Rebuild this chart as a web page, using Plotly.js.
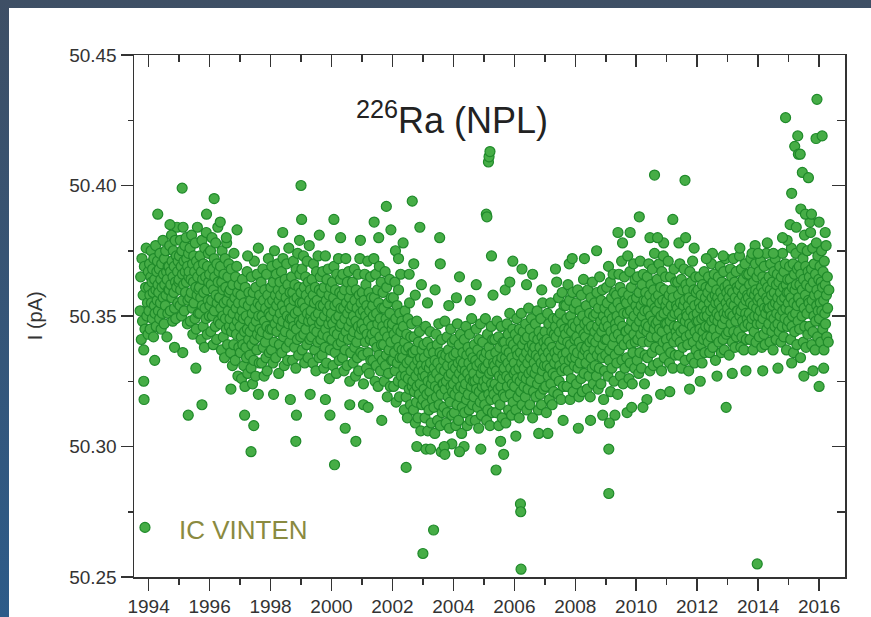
<!DOCTYPE html>
<html><head><meta charset="utf-8">
<script src="https://cdn.plot.ly/plotly-3.0.1.min.js"></script>
<style>
html,body{margin:0;padding:0;width:871px;height:617px;overflow:hidden;background:linear-gradient(to bottom,#3e4f65 0%,#2d5b89 100%);}
#chart{position:absolute;left:9px;top:8px;width:862px;height:609px;background:#fff;}
</style></head><body><div id="chart"></div><script>
// ---- data: time (decimal year) and ionisation current I (pA) ----
const t1993 = [1993.72,1993.74,1993.76,1993.78,1993.80,1993.82,1993.84,1993.86,1993.88,1993.90,1993.92,1993.94,1993.96,1993.98,1993.99];
const i1993 = [50.352,50.365,50.341,50.372,50.348,50.358,50.337,50.369,50.345,50.361,50.376,50.350,50.355,50.343,50.367];

const t1994 = [1994.00,1994.01,1994.03,1994.04,1994.05,1994.07,1994.08,1994.09,1994.11,1994.12,1994.13,1994.15,1994.16,1994.17,1994.19,1994.20,1994.21,1994.23,1994.24,1994.25,1994.27,1994.28,1994.29,1994.31,1994.32,
1994.33,1994.35,1994.36,1994.37,1994.39,1994.40,1994.41,1994.43,1994.44,1994.45,1994.47,1994.48,1994.49,1994.51,1994.52,1994.53,1994.55,1994.56,1994.57,1994.59,1994.60,1994.61,1994.63,1994.64,1994.65,
1994.67,1994.68,1994.69,1994.71,1994.72,1994.73,1994.75,1994.76,1994.77,1994.79,1994.80,1994.81,1994.83,1994.84,1994.85,1994.87,1994.88,1994.89,1994.91,1994.92,1994.93,1994.95,1994.96,1994.97,1994.99];
const i1994 = [50.361,50.352,50.370,50.358,50.345,50.365,50.375,50.355,50.363,50.349,50.368,50.359,50.342,50.372,50.354,50.364,50.351,50.377,50.360,50.346,50.367,50.356,50.371,50.362,50.352,
50.359,50.368,50.349,50.374,50.355,50.364,50.345,50.370,50.361,50.351,50.379,50.357,50.366,50.347,50.372,50.362,50.354,50.375,50.358,50.367,50.342,50.364,50.351,50.369,50.360,
50.369,50.360,50.377,50.352,50.367,50.362,50.381,50.357,50.371,50.348,50.365,50.375,50.359,50.369,50.353,50.379,50.363,50.349,50.373,50.361,50.384,50.367,50.355,50.371,50.363];

const t1995 = [1995.00,1995.01,1995.03,1995.04,1995.05,1995.07,1995.08,1995.09,1995.11,1995.12,1995.13,1995.15,1995.16,1995.17,1995.19,1995.20,1995.21,1995.23,1995.24,1995.25,1995.27,1995.28,1995.29,1995.31,1995.32,
1995.33,1995.35,1995.36,1995.37,1995.39,1995.40,1995.41,1995.43,1995.44,1995.45,1995.47,1995.48,1995.49,1995.51,1995.52,1995.53,1995.55,1995.56,1995.57,1995.59,1995.60,1995.61,1995.63,1995.64,1995.65,
1995.67,1995.68,1995.69,1995.71,1995.72,1995.73,1995.75,1995.76,1995.77,1995.79,1995.80,1995.81,1995.83,1995.84,1995.85,1995.87,1995.88,1995.89,1995.91,1995.92,1995.93,1995.95,1995.96,1995.97,1995.99];
const i1995 = [50.364,50.373,50.354,50.379,50.360,50.369,50.350,50.375,50.366,50.356,50.384,50.362,50.371,50.352,50.377,50.367,50.359,50.380,50.363,50.372,50.347,50.369,50.356,50.374,50.365,
50.367,50.357,50.376,50.348,50.364,50.359,50.381,50.353,50.370,50.343,50.363,50.373,50.355,50.367,50.349,50.378,50.361,50.345,50.371,50.358,50.384,50.365,50.351,50.369,50.360,
50.361,50.351,50.373,50.357,50.341,50.367,50.379,50.354,50.364,50.346,50.370,50.359,50.338,50.376,50.353,50.365,50.349,50.382,50.360,50.343,50.369,50.356,50.374,50.363,50.350];

const t1996 = [1996.00,1996.01,1996.03,1996.04,1996.05,1996.07,1996.08,1996.09,1996.11,1996.12,1996.13,1996.15,1996.16,1996.17,1996.19,1996.20,1996.21,1996.23,1996.24,1996.25,1996.27,1996.28,1996.29,1996.31,1996.32,
1996.33,1996.35,1996.36,1996.37,1996.39,1996.40,1996.41,1996.43,1996.44,1996.45,1996.47,1996.48,1996.49,1996.51,1996.52,1996.53,1996.55,1996.56,1996.57,1996.59,1996.60,1996.61,1996.63,1996.64,1996.65,
1996.67,1996.68,1996.69,1996.71,1996.72,1996.73,1996.75,1996.76,1996.77,1996.79,1996.80,1996.81,1996.83,1996.84,1996.85,1996.87,1996.88,1996.89,1996.91,1996.92,1996.93,1996.95,1996.96,1996.97,1996.99];
const i1996 = [50.366,50.354,50.375,50.344,50.362,50.356,50.380,50.350,50.368,50.339,50.360,50.372,50.352,50.365,50.346,50.378,50.358,50.341,50.370,50.355,50.384,50.363,50.348,50.367,50.357,
50.357,50.347,50.369,50.353,50.337,50.363,50.375,50.350,50.360,50.342,50.366,50.355,50.334,50.372,50.349,50.361,50.345,50.378,50.356,50.339,50.365,50.352,50.370,50.359,50.346,
50.349,50.360,50.336,50.368,50.344,50.355,50.331,50.362,50.351,50.339,50.374,50.346,50.357,50.333,50.365,50.353,50.343,50.369,50.348,50.359,50.327,50.355,50.338,50.362,50.350];

const t1997 = [1997.00,1997.01,1997.03,1997.04,1997.05,1997.07,1997.08,1997.09,1997.11,1997.12,1997.13,1997.15,1997.16,1997.17,1997.19,1997.20,1997.21,1997.23,1997.24,1997.25,1997.27,1997.28,1997.29,1997.31,1997.32,
1997.33,1997.35,1997.36,1997.37,1997.39,1997.40,1997.41,1997.43,1997.44,1997.45,1997.47,1997.48,1997.49,1997.51,1997.52,1997.53,1997.55,1997.56,1997.57,1997.59,1997.60,1997.61,1997.63,1997.64,1997.65,
1997.67,1997.68,1997.69,1997.71,1997.72,1997.73,1997.75,1997.76,1997.77,1997.79,1997.80,1997.81,1997.83,1997.84,1997.85,1997.87,1997.88,1997.89,1997.91,1997.92,1997.93,1997.95,1997.96,1997.97,1997.99];
const i1997 = [50.346,50.336,50.358,50.342,50.326,50.352,50.364,50.339,50.349,50.331,50.355,50.344,50.323,50.361,50.338,50.350,50.334,50.367,50.345,50.328,50.354,50.341,50.359,50.348,50.335,
50.344,50.356,50.330,50.365,50.339,50.351,50.324,50.359,50.346,50.333,50.371,50.341,50.353,50.327,50.361,50.348,50.337,50.366,50.343,50.355,50.320,50.350,50.332,50.358,50.345,
50.354,50.342,50.363,50.332,50.350,50.344,50.368,50.338,50.356,50.327,50.348,50.360,50.340,50.353,50.334,50.366,50.346,50.329,50.358,50.343,50.372,50.351,50.336,50.355,50.345];

const t1998 = [1998.00,1998.01,1998.03,1998.04,1998.05,1998.07,1998.08,1998.09,1998.11,1998.12,1998.13,1998.15,1998.16,1998.17,1998.19,1998.20,1998.21,1998.23,1998.24,1998.25,1998.27,1998.28,1998.29,1998.31,1998.32,
1998.33,1998.35,1998.36,1998.37,1998.39,1998.40,1998.41,1998.43,1998.44,1998.45,1998.47,1998.48,1998.49,1998.51,1998.52,1998.53,1998.55,1998.56,1998.57,1998.59,1998.60,1998.61,1998.63,1998.64,1998.65,
1998.67,1998.68,1998.69,1998.71,1998.72,1998.73,1998.75,1998.76,1998.77,1998.79,1998.80,1998.81,1998.83,1998.84,1998.85,1998.87,1998.88,1998.89,1998.91,1998.92,1998.93,1998.95,1998.96,1998.97,1998.99];
const i1998 = [50.350,50.361,50.337,50.369,50.345,50.356,50.332,50.363,50.352,50.340,50.375,50.347,50.358,50.334,50.366,50.354,50.344,50.370,50.349,50.360,50.328,50.356,50.339,50.363,50.351,
50.358,50.346,50.367,50.336,50.354,50.348,50.372,50.342,50.360,50.331,50.352,50.364,50.344,50.357,50.338,50.370,50.350,50.333,50.362,50.347,50.376,50.355,50.340,50.359,50.349,
50.353,50.343,50.365,50.349,50.333,50.359,50.371,50.346,50.356,50.338,50.362,50.351,50.330,50.368,50.345,50.357,50.341,50.374,50.352,50.335,50.361,50.348,50.366,50.355,50.342];

const t1999 = [1999.00,1999.01,1999.03,1999.04,1999.05,1999.07,1999.08,1999.09,1999.11,1999.12,1999.13,1999.15,1999.16,1999.17,1999.19,1999.20,1999.21,1999.23,1999.24,1999.25,1999.27,1999.28,1999.29,1999.31,1999.32,
1999.33,1999.35,1999.36,1999.37,1999.39,1999.40,1999.41,1999.43,1999.44,1999.45,1999.47,1999.48,1999.49,1999.51,1999.52,1999.53,1999.55,1999.56,1999.57,1999.59,1999.60,1999.61,1999.63,1999.64,1999.65,
1999.67,1999.68,1999.69,1999.71,1999.72,1999.73,1999.75,1999.76,1999.77,1999.79,1999.80,1999.81,1999.83,1999.84,1999.85,1999.87,1999.88,1999.89,1999.91,1999.92,1999.93,1999.95,1999.96,1999.97,1999.99];
const i1999 = [50.359,50.347,50.368,50.337,50.355,50.349,50.373,50.343,50.361,50.332,50.353,50.365,50.345,50.358,50.339,50.371,50.351,50.334,50.363,50.348,50.377,50.356,50.341,50.360,50.350,
50.352,50.342,50.364,50.348,50.332,50.358,50.370,50.345,50.355,50.337,50.361,50.350,50.329,50.367,50.344,50.356,50.340,50.373,50.351,50.334,50.360,50.347,50.365,50.354,50.341,
50.348,50.359,50.335,50.367,50.343,50.354,50.330,50.361,50.350,50.338,50.373,50.345,50.356,50.332,50.364,50.352,50.342,50.368,50.347,50.358,50.326,50.354,50.337,50.361,50.349];

const t2000 = [2000.00,2000.01,2000.03,2000.04,2000.05,2000.07,2000.08,2000.09,2000.11,2000.12,2000.13,2000.15,2000.16,2000.17,2000.19,2000.20,2000.21,2000.23,2000.24,2000.25,2000.27,2000.28,2000.29,2000.31,2000.32,
2000.33,2000.35,2000.36,2000.37,2000.39,2000.40,2000.41,2000.43,2000.44,2000.45,2000.47,2000.48,2000.49,2000.51,2000.52,2000.53,2000.55,2000.56,2000.57,2000.59,2000.60,2000.61,2000.63,2000.64,2000.65,
2000.67,2000.68,2000.69,2000.71,2000.72,2000.73,2000.75,2000.76,2000.77,2000.79,2000.80,2000.81,2000.83,2000.84,2000.85,2000.87,2000.88,2000.89,2000.91,2000.92,2000.93,2000.95,2000.96,2000.97,2000.99];
const i2000 = [50.351,50.341,50.363,50.347,50.331,50.357,50.369,50.344,50.354,50.336,50.360,50.349,50.328,50.366,50.343,50.355,50.339,50.372,50.350,50.333,50.359,50.346,50.364,50.353,50.340,
50.347,50.358,50.334,50.366,50.342,50.353,50.329,50.360,50.349,50.337,50.372,50.344,50.355,50.331,50.363,50.351,50.341,50.367,50.346,50.357,50.325,50.353,50.336,50.360,50.348,
50.354,50.342,50.363,50.332,50.350,50.344,50.368,50.338,50.356,50.327,50.348,50.360,50.340,50.353,50.334,50.366,50.346,50.329,50.358,50.343,50.372,50.351,50.336,50.355,50.345];

const t2001 = [2001.00,2001.01,2001.03,2001.04,2001.05,2001.07,2001.08,2001.09,2001.11,2001.12,2001.13,2001.15,2001.16,2001.17,2001.19,2001.20,2001.21,2001.23,2001.24,2001.25,2001.27,2001.28,2001.29,2001.31,2001.32,
2001.33,2001.35,2001.36,2001.37,2001.39,2001.40,2001.41,2001.43,2001.44,2001.45,2001.47,2001.48,2001.49,2001.51,2001.52,2001.53,2001.55,2001.56,2001.57,2001.59,2001.60,2001.61,2001.63,2001.64,2001.65,
2001.67,2001.68,2001.69,2001.71,2001.72,2001.73,2001.75,2001.76,2001.77,2001.79,2001.80,2001.81,2001.83,2001.84,2001.85,2001.87,2001.88,2001.89,2001.91,2001.92,2001.93,2001.95,2001.96,2001.97,2001.99];
const i2001 = [50.347,50.359,50.335,50.352,50.324,50.356,50.345,50.366,50.340,50.350,50.362,50.330,50.354,50.343,50.371,50.336,50.348,50.359,50.328,50.352,50.341,50.365,50.333,50.357,50.346,
50.343,50.354,50.333,50.350,50.372,50.340,50.357,50.325,50.344,50.366,50.331,50.351,50.338,50.360,50.347,50.323,50.355,50.335,50.369,50.342,50.349,50.329,50.363,50.339,50.353,
50.333,50.346,50.359,50.339,50.353,50.325,50.344,50.367,50.331,50.349,50.335,50.361,50.319,50.342,50.355,50.328,50.347,50.337,50.364,50.351,50.323,50.340,50.357,50.333,50.345];

const t2002 = [2002.00,2002.01,2002.03,2002.04,2002.05,2002.07,2002.08,2002.09,2002.11,2002.12,2002.13,2002.15,2002.16,2002.17,2002.19,2002.20,2002.21,2002.23,2002.24,2002.25,2002.27,2002.28,2002.29,2002.31,2002.32,
2002.33,2002.35,2002.36,2002.37,2002.39,2002.40,2002.41,2002.43,2002.44,2002.45,2002.47,2002.48,2002.49,2002.51,2002.52,2002.53,2002.55,2002.56,2002.57,2002.59,2002.60,2002.61,2002.63,2002.64,2002.65,
2002.67,2002.68,2002.69,2002.71,2002.72,2002.73,2002.75,2002.76,2002.77,2002.79,2002.80,2002.81,2002.83,2002.84,2002.85,2002.87,2002.88,2002.89,2002.91,2002.92,2002.93,2002.95,2002.96,2002.97,2002.99];
const i2002 = [50.347,50.333,50.357,50.323,50.343,50.336,50.363,50.329,50.349,50.317,50.341,50.354,50.332,50.345,50.325,50.360,50.338,50.319,50.351,50.334,50.366,50.344,50.327,50.348,50.337,
50.334,50.324,50.346,50.330,50.314,50.340,50.352,50.327,50.337,50.319,50.343,50.332,50.311,50.349,50.326,50.338,50.322,50.355,50.333,50.316,50.342,50.329,50.347,50.336,50.323,
50.325,50.336,50.314,50.342,50.321,50.331,50.309,50.337,50.327,50.317,50.348,50.323,50.333,50.311,50.340,50.329,50.320,50.344,50.324,50.334,50.306,50.331,50.316,50.337,50.327];

const t2003 = [2003.00,2003.01,2003.03,2003.04,2003.05,2003.07,2003.08,2003.09,2003.11,2003.12,2003.13,2003.15,2003.16,2003.17,2003.19,2003.20,2003.21,2003.23,2003.24,2003.25,2003.27,2003.28,2003.29,2003.31,2003.32,
2003.33,2003.35,2003.36,2003.37,2003.39,2003.40,2003.41,2003.43,2003.44,2003.45,2003.47,2003.48,2003.49,2003.51,2003.52,2003.53,2003.55,2003.56,2003.57,2003.59,2003.60,2003.61,2003.63,2003.64,2003.65,
2003.67,2003.68,2003.69,2003.71,2003.72,2003.73,2003.75,2003.76,2003.77,2003.79,2003.80,2003.81,2003.83,2003.84,2003.85,2003.87,2003.88,2003.89,2003.91,2003.92,2003.93,2003.95,2003.96,2003.97,2003.99];
const i2003 = [50.318,50.329,50.339,50.322,50.334,50.311,50.327,50.346,50.316,50.331,50.320,50.340,50.306,50.325,50.336,50.314,50.330,50.321,50.344,50.332,50.309,50.324,50.338,50.318,50.327,
50.326,50.336,50.315,50.330,50.305,50.333,50.323,50.343,50.319,50.328,50.339,50.310,50.332,50.322,50.347,50.316,50.326,50.336,50.308,50.330,50.320,50.341,50.313,50.335,50.324,
50.324,50.333,50.315,50.329,50.348,50.322,50.335,50.309,50.325,50.342,50.313,50.331,50.319,50.337,50.327,50.307,50.334,50.317,50.345,50.323,50.328,50.312,50.340,50.321,50.331];

const t2004 = [2004.00,2004.01,2004.03,2004.04,2004.05,2004.07,2004.08,2004.09,2004.11,2004.12,2004.13,2004.15,2004.16,2004.17,2004.19,2004.20,2004.21,2004.23,2004.24,2004.25,2004.27,2004.28,2004.29,2004.31,2004.32,
2004.33,2004.35,2004.36,2004.37,2004.39,2004.40,2004.41,2004.43,2004.44,2004.45,2004.47,2004.48,2004.49,2004.51,2004.52,2004.53,2004.55,2004.56,2004.57,2004.59,2004.60,2004.61,2004.63,2004.64,2004.65,
2004.67,2004.68,2004.69,2004.71,2004.72,2004.73,2004.75,2004.76,2004.77,2004.79,2004.80,2004.81,2004.83,2004.84,2004.85,2004.87,2004.88,2004.89,2004.91,2004.92,2004.93,2004.95,2004.96,2004.97,2004.99];
const i2004 = [50.324,50.335,50.313,50.341,50.320,50.330,50.308,50.336,50.326,50.316,50.347,50.322,50.332,50.310,50.339,50.328,50.319,50.343,50.323,50.333,50.305,50.330,50.315,50.336,50.326,
50.332,50.322,50.341,50.313,50.329,50.324,50.346,50.318,50.335,50.308,50.328,50.338,50.320,50.332,50.314,50.343,50.326,50.310,50.336,50.323,50.349,50.330,50.316,50.334,50.325,
50.328,50.319,50.339,50.325,50.310,50.333,50.345,50.322,50.331,50.315,50.337,50.326,50.307,50.341,50.321,50.332,50.317,50.347,50.328,50.312,50.335,50.323,50.340,50.330,50.319];

const t2005 = [2005.00,2005.01,2005.03,2005.04,2005.05,2005.07,2005.08,2005.09,2005.11,2005.12,2005.13,2005.15,2005.16,2005.17,2005.19,2005.20,2005.21,2005.23,2005.24,2005.25,2005.27,2005.28,2005.29,2005.31,2005.32,
2005.33,2005.35,2005.36,2005.37,2005.39,2005.40,2005.41,2005.43,2005.44,2005.45,2005.47,2005.48,2005.49,2005.51,2005.52,2005.53,2005.55,2005.56,2005.57,2005.59,2005.60,2005.61,2005.63,2005.64,2005.65,
2005.67,2005.68,2005.69,2005.71,2005.72,2005.73,2005.75,2005.76,2005.77,2005.79,2005.80,2005.81,2005.83,2005.84,2005.85,2005.87,2005.88,2005.89,2005.91,2005.92,2005.93,2005.95,2005.96,2005.97,2005.99];
const i2005 = [50.325,50.334,50.316,50.330,50.349,50.323,50.336,50.310,50.326,50.343,50.314,50.332,50.320,50.338,50.328,50.308,50.335,50.318,50.346,50.324,50.329,50.313,50.341,50.322,50.332,
50.320,50.331,50.341,50.324,50.336,50.313,50.329,50.348,50.318,50.333,50.322,50.342,50.308,50.327,50.338,50.316,50.332,50.323,50.346,50.334,50.311,50.326,50.340,50.320,50.329,
50.330,50.340,50.319,50.334,50.309,50.337,50.327,50.347,50.323,50.332,50.343,50.314,50.336,50.326,50.351,50.320,50.330,50.340,50.312,50.334,50.324,50.345,50.317,50.339,50.328];

const t2006 = [2006.00,2006.01,2006.03,2006.04,2006.05,2006.07,2006.08,2006.09,2006.11,2006.12,2006.13,2006.15,2006.16,2006.17,2006.19,2006.20,2006.21,2006.23,2006.24,2006.25,2006.27,2006.28,2006.29,2006.31,2006.32,
2006.33,2006.35,2006.36,2006.37,2006.39,2006.40,2006.41,2006.43,2006.44,2006.45,2006.47,2006.48,2006.49,2006.51,2006.52,2006.53,2006.55,2006.56,2006.57,2006.59,2006.60,2006.61,2006.63,2006.64,2006.65,
2006.67,2006.68,2006.69,2006.71,2006.72,2006.73,2006.75,2006.76,2006.77,2006.79,2006.80,2006.81,2006.83,2006.84,2006.85,2006.87,2006.88,2006.89,2006.91,2006.92,2006.93,2006.95,2006.96,2006.97,2006.99];
const i2006 = [50.332,50.323,50.343,50.329,50.314,50.337,50.349,50.326,50.335,50.319,50.341,50.330,50.311,50.345,50.325,50.336,50.321,50.351,50.332,50.316,50.339,50.327,50.344,50.334,50.323,
50.330,50.341,50.319,50.347,50.326,50.336,50.314,50.342,50.332,50.322,50.353,50.328,50.338,50.316,50.345,50.334,50.325,50.349,50.329,50.339,50.311,50.336,50.321,50.342,50.332,
50.338,50.328,50.347,50.319,50.335,50.330,50.352,50.324,50.341,50.314,50.334,50.344,50.326,50.338,50.320,50.349,50.332,50.316,50.342,50.329,50.355,50.336,50.322,50.340,50.331];

const t2007 = [2007.00,2007.01,2007.03,2007.04,2007.05,2007.07,2007.08,2007.09,2007.11,2007.12,2007.13,2007.15,2007.16,2007.17,2007.19,2007.20,2007.21,2007.23,2007.24,2007.25,2007.27,2007.28,2007.29,2007.31,2007.32,
2007.33,2007.35,2007.36,2007.37,2007.39,2007.40,2007.41,2007.43,2007.44,2007.45,2007.47,2007.48,2007.49,2007.51,2007.52,2007.53,2007.55,2007.56,2007.57,2007.59,2007.60,2007.61,2007.63,2007.64,2007.65,
2007.67,2007.68,2007.69,2007.71,2007.72,2007.73,2007.75,2007.76,2007.77,2007.79,2007.80,2007.81,2007.83,2007.84,2007.85,2007.87,2007.88,2007.89,2007.91,2007.92,2007.93,2007.95,2007.96,2007.97,2007.99];
const i2007 = [50.334,50.344,50.323,50.338,50.313,50.341,50.331,50.351,50.327,50.336,50.347,50.318,50.340,50.330,50.355,50.324,50.334,50.344,50.316,50.338,50.328,50.349,50.321,50.343,50.332,
50.336,50.346,50.327,50.342,50.363,50.334,50.349,50.320,50.337,50.357,50.325,50.344,50.331,50.351,50.339,50.318,50.347,50.329,50.359,50.335,50.341,50.323,50.354,50.333,50.345,
50.330,50.343,50.354,50.336,50.349,50.323,50.340,50.362,50.329,50.345,50.333,50.356,50.318,50.339,50.350,50.326,50.344,50.334,50.359,50.347,50.321,50.337,50.353,50.331,50.341];

const t2008 = [2008.00,2008.01,2008.03,2008.04,2008.05,2008.07,2008.08,2008.09,2008.11,2008.12,2008.13,2008.15,2008.16,2008.17,2008.19,2008.20,2008.21,2008.23,2008.24,2008.25,2008.27,2008.28,2008.29,2008.31,2008.32,
2008.33,2008.35,2008.36,2008.37,2008.39,2008.40,2008.41,2008.43,2008.44,2008.45,2008.47,2008.48,2008.49,2008.51,2008.52,2008.53,2008.55,2008.56,2008.57,2008.59,2008.60,2008.61,2008.63,2008.64,2008.65,
2008.67,2008.68,2008.69,2008.71,2008.72,2008.73,2008.75,2008.76,2008.77,2008.79,2008.80,2008.81,2008.83,2008.84,2008.85,2008.87,2008.88,2008.89,2008.91,2008.92,2008.93,2008.95,2008.96,2008.97,2008.99];
const i2008 = [50.346,50.334,50.355,50.324,50.342,50.336,50.360,50.330,50.348,50.319,50.340,50.352,50.332,50.345,50.326,50.358,50.338,50.321,50.350,50.335,50.364,50.343,50.328,50.347,50.337,
50.342,50.332,50.354,50.338,50.322,50.348,50.360,50.335,50.345,50.327,50.351,50.340,50.319,50.357,50.334,50.346,50.330,50.363,50.341,50.324,50.350,50.337,50.355,50.344,50.331,
50.340,50.351,50.327,50.359,50.335,50.346,50.322,50.353,50.342,50.330,50.365,50.337,50.348,50.324,50.356,50.344,50.334,50.360,50.339,50.350,50.318,50.346,50.329,50.353,50.341];

const t2009 = [2009.00,2009.01,2009.03,2009.04,2009.05,2009.07,2009.08,2009.09,2009.11,2009.12,2009.13,2009.15,2009.16,2009.17,2009.19,2009.20,2009.21,2009.23,2009.24,2009.25,2009.27,2009.28,2009.29,2009.31,2009.32,
2009.33,2009.35,2009.36,2009.37,2009.39,2009.40,2009.41,2009.43,2009.44,2009.45,2009.47,2009.48,2009.49,2009.51,2009.52,2009.53,2009.55,2009.56,2009.57,2009.59,2009.60,2009.61,2009.63,2009.64,2009.65,
2009.67,2009.68,2009.69,2009.71,2009.72,2009.73,2009.75,2009.76,2009.77,2009.79,2009.80,2009.81,2009.83,2009.84,2009.85,2009.87,2009.88,2009.89,2009.91,2009.92,2009.93,2009.95,2009.96,2009.97,2009.99];
const i2009 = [50.335,50.348,50.361,50.341,50.355,50.327,50.346,50.369,50.333,50.351,50.337,50.363,50.321,50.344,50.357,50.330,50.349,50.339,50.366,50.353,50.325,50.342,50.359,50.335,50.347,
50.345,50.358,50.332,50.350,50.320,50.355,50.343,50.366,50.337,50.348,50.361,50.327,50.353,50.341,50.371,50.333,50.346,50.359,50.324,50.351,50.339,50.365,50.330,50.356,50.344,
50.344,50.355,50.334,50.351,50.373,50.341,50.358,50.326,50.345,50.367,50.332,50.352,50.339,50.361,50.348,50.324,50.356,50.336,50.370,50.343,50.350,50.330,50.364,50.340,50.354];

const t2010 = [2010.00,2010.01,2010.03,2010.04,2010.05,2010.07,2010.08,2010.09,2010.11,2010.12,2010.13,2010.15,2010.16,2010.17,2010.19,2010.20,2010.21,2010.23,2010.24,2010.25,2010.27,2010.28,2010.29,2010.31,2010.32,
2010.33,2010.35,2010.36,2010.37,2010.39,2010.40,2010.41,2010.43,2010.44,2010.45,2010.47,2010.48,2010.49,2010.51,2010.52,2010.53,2010.55,2010.56,2010.57,2010.59,2010.60,2010.61,2010.63,2010.64,2010.65,
2010.67,2010.68,2010.69,2010.71,2010.72,2010.73,2010.75,2010.76,2010.77,2010.79,2010.80,2010.81,2010.83,2010.84,2010.85,2010.87,2010.88,2010.89,2010.91,2010.92,2010.93,2010.95,2010.96,2010.97,2010.99];
const i2010 = [50.346,50.357,50.333,50.365,50.341,50.352,50.328,50.359,50.348,50.336,50.371,50.343,50.354,50.330,50.362,50.350,50.340,50.366,50.345,50.356,50.324,50.352,50.335,50.359,50.347,
50.356,50.344,50.365,50.334,50.352,50.346,50.370,50.340,50.358,50.329,50.350,50.362,50.342,50.355,50.336,50.368,50.348,50.331,50.360,50.345,50.374,50.353,50.338,50.357,50.347,
50.352,50.342,50.364,50.348,50.332,50.358,50.370,50.345,50.355,50.337,50.361,50.350,50.329,50.367,50.344,50.356,50.340,50.373,50.351,50.334,50.360,50.347,50.365,50.354,50.341];

const t2011 = [2011.00,2011.01,2011.03,2011.04,2011.05,2011.07,2011.08,2011.09,2011.11,2011.12,2011.13,2011.15,2011.16,2011.17,2011.19,2011.20,2011.21,2011.23,2011.24,2011.25,2011.27,2011.28,2011.29,2011.31,2011.32,
2011.33,2011.35,2011.36,2011.37,2011.39,2011.40,2011.41,2011.43,2011.44,2011.45,2011.47,2011.48,2011.49,2011.51,2011.52,2011.53,2011.55,2011.56,2011.57,2011.59,2011.60,2011.61,2011.63,2011.64,2011.65,
2011.67,2011.68,2011.69,2011.71,2011.72,2011.73,2011.75,2011.76,2011.77,2011.79,2011.80,2011.81,2011.83,2011.84,2011.85,2011.87,2011.88,2011.89,2011.91,2011.92,2011.93,2011.95,2011.96,2011.97,2011.99];
const i2011 = [50.347,50.356,50.338,50.352,50.371,50.345,50.358,50.332,50.348,50.365,50.336,50.354,50.342,50.360,50.350,50.330,50.357,50.340,50.368,50.346,50.351,50.335,50.363,50.344,50.354,
50.342,50.353,50.363,50.346,50.358,50.335,50.351,50.370,50.340,50.355,50.344,50.364,50.330,50.349,50.360,50.338,50.354,50.345,50.368,50.356,50.333,50.348,50.362,50.342,50.351,
50.350,50.360,50.339,50.354,50.329,50.357,50.347,50.367,50.343,50.352,50.363,50.334,50.356,50.346,50.371,50.340,50.350,50.360,50.332,50.354,50.344,50.365,50.337,50.359,50.348];

const t2012 = [2012.00,2012.01,2012.03,2012.04,2012.05,2012.07,2012.08,2012.09,2012.11,2012.12,2012.13,2012.15,2012.16,2012.17,2012.19,2012.20,2012.21,2012.23,2012.24,2012.25,2012.27,2012.28,2012.29,2012.31,2012.32,
2012.33,2012.35,2012.36,2012.37,2012.39,2012.40,2012.41,2012.43,2012.44,2012.45,2012.47,2012.48,2012.49,2012.51,2012.52,2012.53,2012.55,2012.56,2012.57,2012.59,2012.60,2012.61,2012.63,2012.64,2012.65,
2012.67,2012.68,2012.69,2012.71,2012.72,2012.73,2012.75,2012.76,2012.77,2012.79,2012.80,2012.81,2012.83,2012.84,2012.85,2012.87,2012.88,2012.89,2012.91,2012.92,2012.93,2012.95,2012.96,2012.97,2012.99];
const i2012 = [50.351,50.342,50.360,50.348,50.335,50.355,50.365,50.345,50.353,50.339,50.358,50.349,50.332,50.362,50.344,50.354,50.341,50.367,50.350,50.336,50.357,50.346,50.361,50.352,50.342,
50.350,50.359,50.340,50.365,50.346,50.355,50.336,50.361,50.352,50.342,50.370,50.348,50.357,50.338,50.363,50.353,50.345,50.366,50.349,50.358,50.333,50.355,50.342,50.360,50.351,
50.357,50.348,50.365,50.340,50.355,50.350,50.369,50.345,50.359,50.336,50.353,50.363,50.347,50.357,50.341,50.367,50.351,50.337,50.361,50.349,50.372,50.355,50.343,50.359,50.351];

const t2013 = [2013.00,2013.01,2013.03,2013.04,2013.05,2013.07,2013.08,2013.09,2013.11,2013.12,2013.13,2013.15,2013.16,2013.17,2013.19,2013.20,2013.21,2013.23,2013.24,2013.25,2013.27,2013.28,2013.29,2013.31,2013.32,
2013.33,2013.35,2013.36,2013.37,2013.39,2013.40,2013.41,2013.43,2013.44,2013.45,2013.47,2013.48,2013.49,2013.51,2013.52,2013.53,2013.55,2013.56,2013.57,2013.59,2013.60,2013.61,2013.63,2013.64,2013.65,
2013.67,2013.68,2013.69,2013.71,2013.72,2013.73,2013.75,2013.76,2013.77,2013.79,2013.80,2013.81,2013.83,2013.84,2013.85,2013.87,2013.88,2013.89,2013.91,2013.92,2013.93,2013.95,2013.96,2013.97,2013.99];
const i2013 = [50.353,50.362,50.344,50.357,50.335,50.360,50.351,50.368,50.347,50.355,50.365,50.340,50.359,50.350,50.372,50.344,50.354,50.363,50.338,50.357,50.348,50.367,50.342,50.361,50.352,
50.352,50.360,50.344,50.356,50.373,50.350,50.362,50.338,50.352,50.368,50.342,50.358,50.348,50.364,50.354,50.337,50.360,50.346,50.370,50.351,50.356,50.341,50.366,50.349,50.358,
50.347,50.357,50.366,50.351,50.362,50.341,50.355,50.372,50.346,50.359,50.349,50.367,50.337,50.354,50.363,50.344,50.358,50.350,50.370,50.360,50.340,50.353,50.365,50.347,50.356];

const t2014 = [2014.00,2014.01,2014.03,2014.04,2014.05,2014.07,2014.08,2014.09,2014.11,2014.12,2014.13,2014.15,2014.16,2014.17,2014.19,2014.20,2014.21,2014.23,2014.24,2014.25,2014.27,2014.28,2014.29,2014.31,2014.32,
2014.33,2014.35,2014.36,2014.37,2014.39,2014.40,2014.41,2014.43,2014.44,2014.45,2014.47,2014.48,2014.49,2014.51,2014.52,2014.53,2014.55,2014.56,2014.57,2014.59,2014.60,2014.61,2014.63,2014.64,2014.65,
2014.67,2014.68,2014.69,2014.71,2014.72,2014.73,2014.75,2014.76,2014.77,2014.79,2014.80,2014.81,2014.83,2014.84,2014.85,2014.87,2014.88,2014.89,2014.91,2014.92,2014.93,2014.95,2014.96,2014.97,2014.99];
const i2014 = [50.359,50.350,50.367,50.342,50.357,50.352,50.371,50.347,50.361,50.338,50.355,50.365,50.349,50.359,50.343,50.369,50.353,50.339,50.363,50.351,50.374,50.357,50.345,50.361,50.353,
50.356,50.347,50.365,50.353,50.340,50.360,50.370,50.350,50.358,50.344,50.363,50.354,50.337,50.367,50.349,50.359,50.346,50.372,50.355,50.341,50.362,50.351,50.366,50.357,50.347,
50.354,50.363,50.344,50.369,50.350,50.359,50.340,50.365,50.356,50.346,50.374,50.352,50.361,50.342,50.367,50.357,50.349,50.370,50.353,50.362,50.337,50.359,50.346,50.364,50.355];

const t2015 = [2015.00,2015.01,2015.03,2015.04,2015.05,2015.07,2015.08,2015.09,2015.11,2015.12,2015.13,2015.15,2015.16,2015.17,2015.19,2015.20,2015.21,2015.23,2015.24,2015.25,2015.27,2015.28,2015.29,2015.31,2015.32,
2015.33,2015.35,2015.36,2015.37,2015.39,2015.40,2015.41,2015.43,2015.44,2015.45,2015.47,2015.48,2015.49,2015.51,2015.52,2015.53,2015.55,2015.56,2015.57,2015.59,2015.60,2015.61,2015.63,2015.64,2015.65,
2015.67,2015.68,2015.69,2015.71,2015.72,2015.73,2015.75,2015.76,2015.77,2015.79,2015.80,2015.81,2015.83,2015.84,2015.85,2015.87,2015.88,2015.89,2015.91,2015.92,2015.93,2015.95,2015.96,2015.97,2015.99];
const i2015 = [50.348,50.359,50.369,50.352,50.364,50.341,50.357,50.376,50.346,50.361,50.350,50.370,50.336,50.355,50.366,50.344,50.360,50.351,50.374,50.362,50.339,50.354,50.368,50.348,50.357,
50.357,50.369,50.345,50.362,50.334,50.366,50.355,50.376,50.350,50.360,50.372,50.340,50.364,50.353,50.381,50.346,50.358,50.369,50.338,50.362,50.351,50.375,50.343,50.367,50.356,
50.355,50.365,50.346,50.361,50.382,50.353,50.368,50.339,50.356,50.376,50.344,50.363,50.350,50.370,50.358,50.337,50.366,50.348,50.378,50.354,50.360,50.342,50.373,50.352,50.364];

const t2016 = [2016.00,2016.01,2016.03,2016.04,2016.05,2016.07,2016.08,2016.09,2016.11,2016.12,2016.13,2016.15,2016.16,2016.17,2016.19,2016.20,2016.21,2016.23,2016.24,2016.25,2016.27,2016.28];
const i2016 = [50.358,50.349,50.369,50.355,50.340,50.363,50.375,50.352,50.361,50.345,50.367,50.356,50.337,50.371,50.351,50.362,50.347,50.377,50.358,50.342,50.365,50.353];

// scattered readings at the edges of the band
const tTails = [1994.20,1994.70,1994.85,1995.55,1995.90,1996.70,1996.90,1996.55,1997.15,1997.45,1997.60,1997.25,
1998.10,1998.40,1998.65,1998.95,1999.30,1999.60,1999.80,2000.30,2000.60,2000.95,2001.05,2001.55,2001.65,2001.95,
2002.10,2002.20,2002.35,2002.55,2002.70,2002.80,2002.95,2002.75,2003.15,2003.40,2003.60,2003.85,2003.95,
2004.10,2004.35,2004.55,2004.75,2004.90,2005.30,2005.55,2005.70,2005.85,2006.05,2006.40,2006.60,2006.80,2006.90,
2007.10,2007.35,2007.60,2007.80,2008.30,2008.50,2008.70,2008.90,2009.30,2009.55,2009.70,2010.35,2010.45,2010.80,2010.90,
2011.10,2011.40,2011.75,2012.10,2012.50,2012.65,2012.85,2013.15,2013.40,2013.60,2013.90,2014.15,2014.30,2014.65,2014.95,
2015.05,2015.25,2015.50,2015.70,2016.15,2016.20,2016.30,2016.32];
const iTails = [50.333,50.385,50.338,50.330,50.389,50.322,50.383,50.380,50.312,50.308,50.376,50.373,
50.320,50.382,50.318,50.379,50.320,50.381,50.318,50.380,50.316,50.379,50.316,50.380,50.310,50.383,
50.375,50.372,50.378,50.366,50.370,50.300,50.362,50.358,50.355,50.360,50.298,50.354,50.301,
50.357,50.300,50.356,50.362,50.299,50.358,50.302,50.360,50.363,50.304,50.362,50.366,50.305,50.360,
50.305,50.368,50.310,50.370,50.372,50.310,50.375,50.312,50.312,50.378,50.313,50.318,50.380,50.320,50.378,
50.321,50.378,50.322,50.325,50.374,50.327,50.373,50.328,50.376,50.329,50.377,50.329,50.378,50.330,50.379,
50.385,50.384,50.327,50.386,50.330,50.382,50.340,50.360];

// isolated outlying readings
const tOutliers = [1993.88,1993.85,1993.84,1994.30,1995.10,1995.30,1995.75,1995.12,1996.15,1996.35,
1997.36,1998.83,1998.85,1999.00,1999.02,2000.08,1999.95,2000.10,2000.45,2000.80,
2001.20,2001.80,2001.40,2002.45,2002.65,2002.90,2003.00,2003.35,2003.10,2003.25,
2003.70,2003.72,2004.20,2003.55,2003.57,2004.20,2005.08,2005.10,2005.15,2005.17,
2005.20,2005.25,2005.40,2005.65,2005.95,2006.25,2006.20,2006.21,2006.22,2007.90,
2008.10,2009.10,2009.10,2009.12,2009.40,2009.80,2010.10,2010.22,2009.85,2010.60,
2010.70,2011.20,2011.60,2011.62,2011.90,2012.30,2012.95,2013.97,2013.80,2014.00,
2014.50,2014.80,2014.90,2015.10,2015.20,2015.30,2015.32,2015.38,2015.45,2015.65,
2015.40,2015.55,2015.75,2015.93,2015.90,2016.10,2016.00,2016.00,2015.80,2015.10];
const iOutliers = [50.269,50.318,50.325,50.389,50.399,50.312,50.316,50.336,50.395,50.386,
50.298,50.302,50.312,50.400,50.387,50.387,50.312,50.293,50.307,50.302,
50.315,50.392,50.386,50.292,50.394,50.384,50.259,50.268,50.299,50.299,
50.300,50.297,50.298,50.380,50.370,50.365,50.389,50.388,50.409,50.411,
50.413,50.373,50.291,50.297,50.371,50.368,50.278,50.275,50.253,50.372,
50.307,50.299,50.282,50.309,50.382,50.382,50.388,50.315,50.315,50.404,
50.380,50.387,50.402,50.380,50.376,50.372,50.315,50.255,50.374,50.374,
50.374,50.380,50.426,50.397,50.415,50.419,50.412,50.412,50.405,50.403,
50.391,50.389,50.389,50.433,50.418,50.419,50.386,50.323,50.329,50.332];

// axis ticks
const xTickVals = [1994,1996,1998,2000,2002,2004,2006,2008,2010,2012,2014,2016];
const xTickText = ['1994','1996','1998','2000','2002','2004','2006','2008','2010','2012','2014','2016'];
const xMinorVals = [1995,1997,1999,2001,2003,2005,2007,2009,2011,2013,2015];
const yTickVals = [50.25,50.30,50.35,50.40,50.45];
const yTickText = ['50.25','50.30','50.35','50.40','50.45'];
const yMinorVals = [50.275,50.325,50.375,50.425];

// ---- assemble ----
const tAll = [].concat(t1993,t1994,t1995,t1996,t1997,t1998,t1999,t2000,t2001,t2002,t2003,t2004,t2005,
  t2006,t2007,t2008,t2009,t2010,t2011,t2012,t2013,t2014,t2015,t2016,tTails,tOutliers);
const iAll = [].concat(i1993,i1994,i1995,i1996,i1997,i1998,i1999,i2000,i2001,i2002,i2003,i2004,i2005,
  i2006,i2007,i2008,i2009,i2010,i2011,i2012,i2013,i2014,i2015,i2016,iTails,iOutliers);

const axisCol = '#333333';
const xRange = [1993.52, 2016.85];
const yRange = [50.25, 50.45];

const data = [
  {type:'scatter', mode:'markers', x:tAll, y:iAll, hoverinfo:'skip',
   marker:{size:10, color:'#46ad46', line:{color:'#1f8a2a', width:1.2}}},
  {type:'scatter', mode:'markers', x:[null], y:[null], xaxis:'x2', yaxis:'y2', hoverinfo:'skip', showlegend:false}
];

const layout = {
  width:862, height:609,
  margin:{l:125, r:26, t:47, b:40},
  paper_bgcolor:'#ffffff', plot_bgcolor:'#ffffff',
  showlegend:false,
  font:{family:'Liberation Sans, Arial, sans-serif', color:axisCol},
  xaxis:{range:xRange, tickmode:'array', tickvals:xTickVals, ticktext:xTickText,
    ticks:'outside', ticklen:12, tickwidth:1.5, tickcolor:axisCol,
    showline:true, linecolor:axisCol, linewidth:1.5, showgrid:false, zeroline:false,
    tickfont:{size:19, color:'#333'},
    minor:{tickmode:'array', tickvals:xMinorVals, ticks:'outside', ticklen:6, tickwidth:1.5, tickcolor:axisCol, showgrid:false}},
  yaxis:{range:yRange, tickmode:'array', tickvals:yTickVals, ticktext:yTickText,
    ticks:'outside', ticklen:12, tickwidth:1.5, tickcolor:axisCol,
    showline:true, linecolor:axisCol, linewidth:1.5, showgrid:false, zeroline:false,
    tickfont:{size:19, color:'#333'},
    minor:{tickmode:'array', tickvals:yMinorVals, ticks:'outside', ticklen:5, tickwidth:1.5, tickcolor:axisCol, showgrid:false}},
  xaxis2:{range:xRange, overlaying:'x', side:'top', anchor:'y2', tickmode:'array', tickvals:xTickVals,
    showticklabels:false, ticks:'inside', ticklen:12, tickwidth:1.5, tickcolor:axisCol,
    showline:true, linecolor:axisCol, linewidth:1.5, showgrid:false, zeroline:false,
    minor:{tickmode:'array', tickvals:xMinorVals, ticks:'inside', ticklen:7, tickwidth:1.5, tickcolor:axisCol, showgrid:false}},
  yaxis2:{range:yRange, overlaying:'y', side:'right', anchor:'x2', tickmode:'array', tickvals:yTickVals,
    showticklabels:false, ticks:'inside', ticklen:13, tickwidth:1.5, tickcolor:axisCol,
    showline:true, linecolor:axisCol, linewidth:1.5, showgrid:false, zeroline:false,
    minor:{tickmode:'array', tickvals:yMinorVals, ticks:'inside', ticklen:8, tickwidth:1.5, tickcolor:axisCol, showgrid:false}},
  annotations:[
    {text:'<sup>226</sup>Ra (NPL)', xref:'paper', yref:'paper', x:0.4466, y:0.879, xanchor:'center', yanchor:'middle',
     showarrow:false, font:{size:36, color:'#222'}},
    {text:'IC VINTEN', xref:'paper', yref:'paper', x:0.154, y:0.090, xanchor:'center', yanchor:'middle',
     showarrow:false, font:{size:26, color:'#8a8a40'}},
    {text:'I (pA)', xref:'paper', yref:'paper', x:-0.139, y:0.5, xanchor:'center', yanchor:'middle', textangle:-90,
     showarrow:false, font:{size:20, color:'#333'}}
  ]
};

Plotly.newPlot('chart', data, layout, {staticPlot:true, displayModeBar:false});
</script></body></html>
